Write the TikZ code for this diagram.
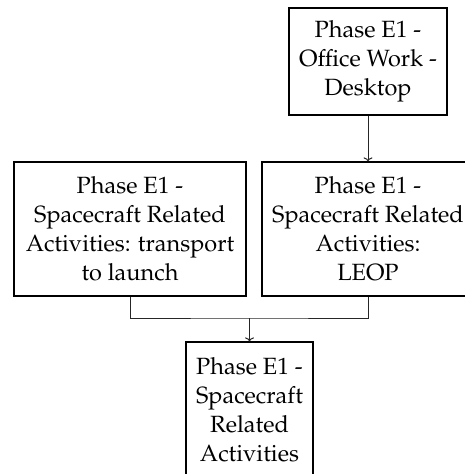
\documentclass[tikz,border=0pt]{standalone}
\usepackage[T1]{fontenc}
\usepackage{mathpazo}
\usetikzlibrary{arrows.meta}
\tikzset{
  phasebox/.style={draw, line width=1.2pt, inner sep=0pt, align=center,
    font=\fontsize{23.5}{29}\selectfont},
  link/.style={draw=black!85, line width=1pt},
  linkarrow/.style={link, -{To[length=4pt,width=9pt]}}
}
\begin{document}
\begin{tikzpicture}[x=1pt,y=-1pt]
  \useasboundingbox (0,0) rectangle (465,474);
  \clip (0,0) rectangle (465,474);

  \node[phasebox, minimum width=158pt, minimum height=107pt] (office) at (368,61.5)
    {Phase E1 -\\Office Work -\\Desktop};
  \node[phasebox, minimum width=232pt, minimum height=134pt] (transport) at (130,229)
    {Phase E1 -\\Spacecraft Related\\Activities: transport\\to launch};
  \node[phasebox, minimum width=212pt, minimum height=134pt] (leop) at (368,229)
    {Phase E1 -\\Spacecraft Related\\Activities:\\LEOP};
  \node[phasebox, minimum width=127pt, minimum height=136pt] (related) at (249.5,410)
    {Phase E1 -\\Spacecraft\\Related\\Activities};

  \coordinate (join) at (249.5,318);
  \draw[linkarrow] (office.south) -- (leop.north);
  \draw[link] (transport.south) |- (join) -| (leop.south);
  \draw[linkarrow] (join) -- (related.north);
\end{tikzpicture}
\end{document}
